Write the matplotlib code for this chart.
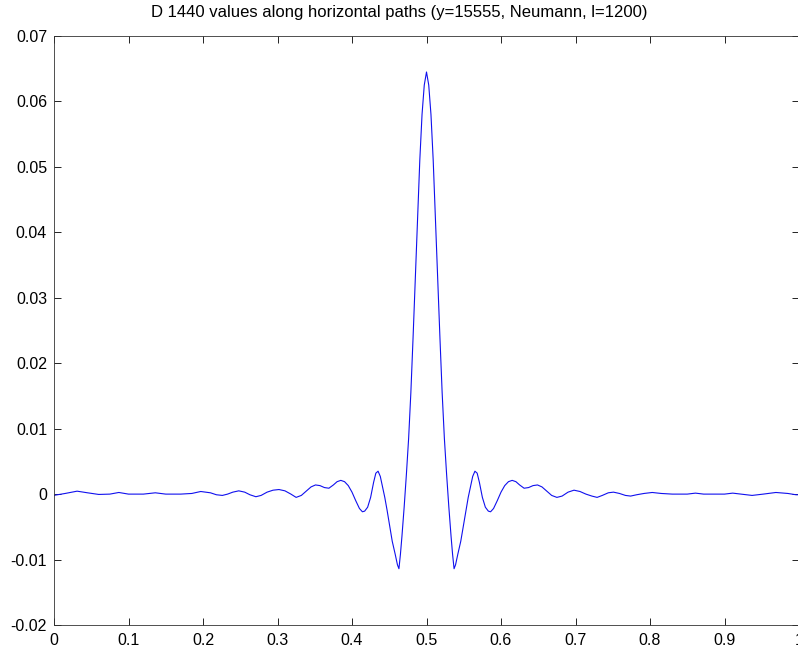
import numpy as np
import matplotlib
matplotlib.use("Agg")
import matplotlib.pyplot as plt

# values (x from 0 to 1)
x_vals = [0.000, 0.002, 0.015, 0.031, 0.045, 0.060, 0.075, 0.087, 0.100, 0.120,
          0.136, 0.150, 0.170, 0.185, 0.197, 0.210, 0.218, 0.226, 0.233, 0.240,
          0.248, 0.256, 0.263, 0.271, 0.278, 0.286, 0.294, 0.302, 0.310, 0.318,
          0.325, 0.332, 0.338, 0.345, 0.351, 0.357, 0.363, 0.369, 0.375, 0.380,
          0.385, 0.390, 0.395, 0.400, 0.405, 0.410, 0.414, 0.417, 0.421, 0.425,
          0.429, 0.432, 0.435, 0.438, 0.441, 0.444, 0.447, 0.450, 0.454, 0.458,
          0.461, 0.463, 0.465, 0.467, 0.470, 0.473, 0.476, 0.479, 0.482, 0.485,
          0.488, 0.491, 0.494, 0.497, 0.500,
          0.503, 0.506, 0.509, 0.512, 0.515, 0.518, 0.521, 0.524, 0.527, 0.530,
          0.533, 0.535, 0.537, 0.539, 0.542, 0.546, 0.550, 0.553, 0.556, 0.559,
          0.562, 0.565, 0.568, 0.571, 0.575, 0.579, 0.583, 0.586, 0.590, 0.595,
          0.600, 0.605, 0.610, 0.615, 0.620, 0.625, 0.631, 0.637, 0.643, 0.649,
          0.655, 0.662, 0.668, 0.675, 0.682, 0.690, 0.698, 0.706, 0.714, 0.722,
          0.729, 0.736, 0.744, 0.751, 0.759, 0.767, 0.774, 0.782, 0.792, 0.803,
          0.815, 0.830, 0.850, 0.861, 0.872, 0.900, 0.911, 0.922, 0.937, 0.952,
          0.969, 0.985, 0.996, 1.000]
d_vals = [-0.0002, -0.00015, 0.0001, 0.00045, 0.0002, -0.00005, 0.0, 0.00025, 0.0, 0.0,
          0.0002, 0.0, 0.0, 0.0001, 0.0004, 0.0002, -0.0001, -0.0002, 0.0, 0.0003,
          0.0005, 0.0003, -0.0001, -0.0004, -0.0002, 0.0003, 0.0006, 0.0007, 0.0005, 0.0,
          -0.0005, -0.0002, 0.0004, 0.0011, 0.0014, 0.0013, 0.0010, 0.0009, 0.0014, 0.0019,
          0.0021, 0.0019, 0.0013, 0.0003, -0.0010, -0.0022, -0.0027, -0.0026, -0.0020, -0.0005,
          0.0018, 0.0032, 0.0035, 0.0027, 0.0011, -0.0005, -0.0024, -0.0045, -0.0072, -0.0092,
          -0.0108, -0.0114, -0.0092, -0.0065, -0.0020, 0.0030, 0.0085, 0.0155, 0.0240, 0.0330,
          0.0420, 0.0510, 0.0580, 0.0625, 0.0645,
          0.0625, 0.0580, 0.0510, 0.0420, 0.0330, 0.0240, 0.0155, 0.0085, 0.0030, -0.0020,
          -0.0065, -0.0092, -0.0114, -0.0108, -0.0092, -0.0072, -0.0045, -0.0024, -0.0005, 0.0011,
          0.0027, 0.0035, 0.0032, 0.0018, -0.0005, -0.0020, -0.0026, -0.0027, -0.0022, -0.0010,
          0.0003, 0.0013, 0.0019, 0.0021, 0.0019, 0.0014, 0.0009, 0.0010, 0.0013, 0.0014,
          0.0011, 0.0004, -0.0002, -0.0005, -0.0003, 0.0003, 0.0006, 0.0004, 0.0, -0.0003,
          -0.0005, -0.0002, 0.0002, 0.0003, 0.0001, -0.0002, -0.0003, -0.0001, 0.0001, 0.00025,
          0.0001, 0.0, 0.0, 0.00015, 0.0, 0.0, 0.00015, 0.0, -0.0002, 0.0,
          0.00025, 0.0001, -0.0001, -0.0001]

x_ticks = [0, 0.1, 0.2, 0.3, 0.4, 0.5, 0.6, 0.7, 0.8, 0.9, 1]
x_labels = ['0', '0.1', '0.2', '0.3', '0.4', '0.5', '0.6', '0.7', '0.8', '0.9', '1']
y_ticks = [-0.02, -0.01, 0, 0.01, 0.02, 0.03, 0.04, 0.05, 0.06, 0.07]
y_labels = ['-0.02', '-0.01', '0', '0.01', '0.02', '0.03', '0.04', '0.05', '0.06', '0.07']

plt.rcParams['font.family'] = ['Liberation Sans', 'DejaVu Sans']

fig = plt.figure(figsize=(7.98, 6.51), dpi=100)
ax = fig.add_axes([54/798, 1-625/651, 745/798, 589/651])
ax.plot(x_vals, d_vals, color='#1010ee', linewidth=0.8)

ax.set_xlim(0, 1)
ax.set_ylim(-0.02, 0.07)
ax.set_xticks(x_ticks)
ax.set_xticklabels(x_labels)
ax.set_yticks(y_ticks)
ax.set_yticklabels(y_labels)
ax.tick_params(direction='in', top=True, right=True, length=5, width=0.6,
               labelsize=11.5, colors='black')
ax.tick_params(axis='y', pad=5)
ax.tick_params(axis='x', pad=6)
for s in ax.spines.values():
    s.set_linewidth(0.6)
    s.set_color('#333333')

# title sits centred on the figure, not on the axes
fig.text(0.5, 1-13/651, 'D 1440 values along horizontal paths (y=15555, Neumann, l=1200)',
         fontsize=12, ha='center', va='center')

fig.savefig("out.png", dpi=100)
